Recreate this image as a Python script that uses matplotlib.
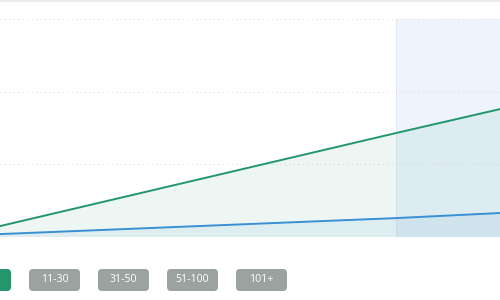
import matplotlib.pyplot as plt
from matplotlib.patches import FancyBboxPatch, Rectangle

# data
periods = [0, 38, 48]
forecast_start = 38
green_vals = [15, 143, 176]
blue_vals = [4, 26, 33]
y_ticks = [100, 200, 300]
# the first (active) button is cut off by the left edge; its label isn't visible
buttons = ['', '11-30', '31-50', '51-100', '101+']
active = 0

GREEN = '#23966b'
BLUE = '#3a90d4'
GRAY_BTN = '#9ba3a1'

fig = plt.figure(figsize=(5, 3), dpi=100)
fig.patch.set_facecolor('white')

# top strip
fig.patches.append(Rectangle((0, 0.992), 1, 0.008, transform=fig.transFigure,
                             facecolor='#e8ecea', edgecolor='none'))

ax = fig.add_axes([0, 0.21, 1, 0.7267])
ax.set_xlim(periods[0], periods[-1])
ax.set_ylim(0, 300)

ax.axvspan(forecast_start, periods[-1], facecolor='#edf4fd', edgecolor='none', zorder=0)
ax.axvline(forecast_start, color='#e4e9ee', lw=0.7, zorder=0.5)

for t in y_ticks:
    ax.axhline(t, color='#dcdfde', lw=0.8, ls=(0, (1, 3)), zorder=1)

ax.fill_between(periods, green_vals, color=GREEN, alpha=0.08, lw=0, zorder=2)
ax.fill_between(periods, blue_vals, color=BLUE, alpha=0.08, lw=0, zorder=2)
ax.plot(periods, green_vals, color=GREEN, lw=1.4, zorder=3)
ax.plot(periods, blue_vals, color=BLUE, lw=1.4, zorder=3)
ax.axis('off')

# range buttons
bw, gap = 51, 18
x0 = -40
for i, lab in enumerate(buttons):
    left = x0 + i * (bw + gap)
    color = GREEN if i == active else GRAY_BTN
    box = FancyBboxPatch((left / 500, 9 / 300), bw / 500, 22 / 300,
                         boxstyle='round,pad=0,rounding_size=0.008',
                         transform=fig.transFigure, facecolor=color,
                         edgecolor='none', mutation_aspect=500 / 300)
    fig.patches.append(box)
    if lab:
        fig.text((left + bw / 2) / 500, 20 / 300, lab, color='white',
                 fontsize=7.6, ha='center', va='center', family='Open Sans')

fig.savefig('out.png', dpi=100)
